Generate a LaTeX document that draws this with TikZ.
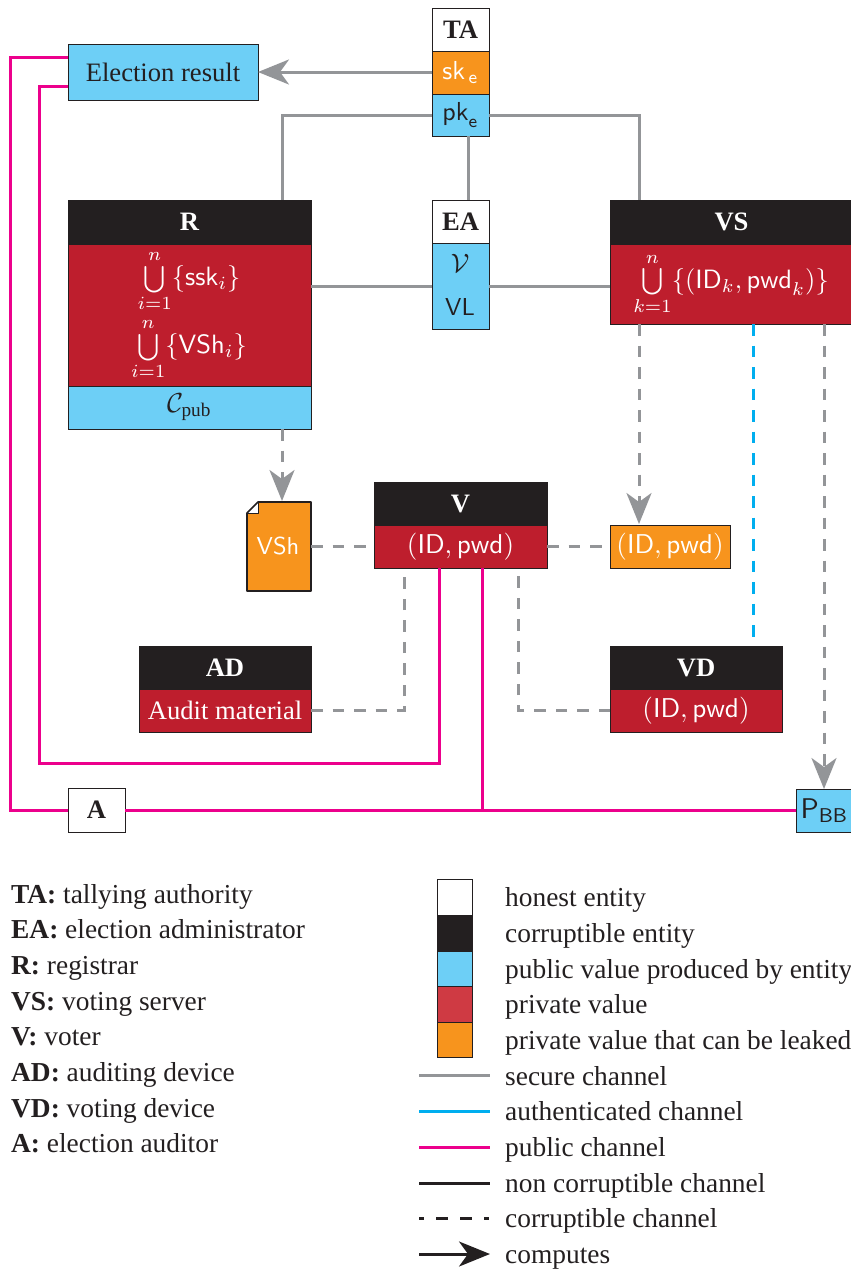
\documentclass[tikz,border=0pt]{standalone}
\usepackage{graphicx}
\usepackage{amsmath}
\usepackage{fontspec}
\setmainfont{Liberation Serif}
\usetikzlibrary{arrows.meta,calc}
\definecolor{cblack}{HTML}{231F20}
\definecolor{cred}{HTML}{BE1E2D}
\definecolor{clight}{HTML}{CF3A43}
\definecolor{cblue}{HTML}{6DCFF6}
\definecolor{corange}{HTML}{F7941D}
\definecolor{cgray}{HTML}{939598}
\definecolor{cpink}{HTML}{EC008C}
\definecolor{ccyan}{HTML}{00AEEF}
\newcommand\tx[1]{\scalebox{2.66}{#1}}
\newcommand\lgx[1]{\scalebox{2.74}{#1}}
\newcommand\mx[1]{\scalebox{2.45}{\sffamily #1}}
\newcommand\idx{\raisebox{-0.5pt}{\scalebox{2.72}{\sffamily $(\mathsf{ID},\mathsf{pwd})$}}}
\newcommand\bx[8]{%
  \pgfmathsetmacro\bxW{#4-#2}\pgfmathsetmacro\bxH{#5-#3}%
  \pgfmathsetmacro\bxX{(#2+#4)/2}\pgfmathsetmacro\bxY{(#3+#5)/2}%
  \node[boxstyle,fill=#6,text=#7,minimum width=\bxW pt,minimum height=\bxH pt] (#1) at (\bxX,\bxY) {#8};}
\tikzset{
  x=1pt,y=-1pt,
  boxstyle/.style={draw=cblack,line width=0.9pt,inner sep=0pt,outer sep=0pt,font=\rmfamily},
  secure/.style={draw=cgray,line width=3pt},
  securedash/.style={secure,dash pattern=on 11.5pt off 10pt},
  authdash/.style={draw=ccyan,line width=3pt,dash pattern=on 11.5pt off 10pt},
  pub/.style={draw=cpink,line width=3pt},
  tip/.style={-{Stealth[length=31pt,width=25pt,inset=9pt]}},
  lab/.style={anchor=base west,inner sep=0pt,text=cblack,font=\rmfamily,yshift=-1pt},
  lgline/.style={line width=3pt},
}
\begin{document}
\begin{tikzpicture}
\useasboundingbox (0,0) rectangle (851,1270);
% boxes
\bx{ta}{432}{8}{489}{51}{white}{cblack}{\tx{\textbf{TA}}}
\bx{ske}{432}{51}{489}{94}{corange}{white}{\scalebox{2.6}{\sffamily $\mathsf{sk}_{\,\mathsf{e}}$}}
\bx{pke}{432}{94}{489}{136}{cblue}{cblack}{\scalebox{2.6}{\sffamily $\mathsf{pk}_{\mathsf{e}}$}}
\bx{elec}{68}{44}{258}{100}{cblue}{cblack}{\tx{Election result}}
\bx{rhead}{68}{200}{311}{244}{cblack}{white}{\tx{\textbf{R}}}
\bx{rpriv}{68}{244}{311}{386}{cred}{white}{}
\bx{rpub}{68}{386}{311}{429}{cblue}{cblack}{\raisebox{-3pt}{\scalebox{2.75}{$\mathcal{C}_{\mathrm{pub}}$}}}
\bx{eahead}{432}{200}{489}{243}{white}{cblack}{\tx{\textbf{EA}}}
\bx{eapub}{432}{243}{489}{329}{cblue}{cblack}{}
\bx{vshead}{610}{200}{853}{244}{cblack}{white}{\tx{\textbf{VS}}}
\bx{vspriv}{610}{244}{853}{324}{cred}{white}{}
\bx{vhead}{374}{482}{547}{525}{cblack}{white}{\tx{\textbf{V}}}
\bx{vpriv}{374}{525}{547}{568}{cred}{white}{\idx}
\bx{leak}{610}{525}{730}{568}{corange}{white}{\idx}
\bx{adhead}{139}{646}{311}{689}{cblack}{white}{\tx{\textbf{AD}}}
\bx{adpriv}{139}{689}{311}{732}{cred}{white}{\tx{Audit material}}
\bx{vdhead}{610}{646}{782}{689}{cblack}{white}{\tx{\textbf{VD}}}
\bx{vdpriv}{610}{689}{782}{732}{cred}{white}{\idx}
\bx{aud}{68}{788}{125}{832}{white}{cblack}{\tx{\textbf{A}}}
\bx{pbb}{796}{789}{853}{832}{cblue}{cblack}{\scalebox{2.85}{\sffamily $\mathsf{P}_{\mathsf{BB}}$}}
% box inner texts
\node[text=white,inner sep=0pt] (rssk) at (189,281) {\scalebox{2.65}{\sffamily $\bigcup\limits_{i=1}^{n}\{\mathsf{ssk}_{i}\}$}};
\node[text=white,inner sep=0pt] (rvsh) at (189,349) {\scalebox{2.65}{\sffamily $\bigcup\limits_{i=1}^{n}\{\mathsf{VSh}_{i}\}$}};
\node[text=white,inner sep=0pt] (vsid) at (731,284) {\scalebox{2.65}{\sffamily $\bigcup\limits_{k=1}^{n}\{(\mathsf{ID}_{k},\mathsf{pwd}_{k})\}$}};
\node[text=cblack,inner sep=0pt] (eav) at (460,263) {\tx{$\mathcal{V}$}};
\node[text=cblack,inner sep=0pt] (eavl) at (460,307) {\mx{VL}};
% VSh document
\node[inner sep=0pt,minimum width=64pt,minimum height=89pt,outer sep=0pt] (vsh) at (279,546.5) {};
\fill[corange] (vsh.north west) ++(11,0) -- (vsh.north east) -- (vsh.south east) -- (vsh.south west) -- ++(0,-78) -- cycle;
\fill[white] (258,502) -- (258,513) -- (247,513) -- cycle;
\draw[cblack,line width=1.6pt,line join=round] (258,502) -- (vsh.north east) -- (vsh.south east) -- (vsh.south west) -- (247,513) -- cycle;
\draw[cblack,line width=1pt,line join=round] (258,502) -- (258,513) -- (247,513);
\node[text=white,inner sep=0pt] (vshlab) at (278,546) {\mx{VSh}};
% anchors for connectors
\coordinate (pkl) at (432,115);
\coordinate (pkr) at (489,115);
\coordinate (rtop) at (282,200);
\coordinate (vstop) at (639,200);
\coordinate (pkb) at (468,136);
\coordinate (eat) at (468,200);
\coordinate (el) at (489,286);
\coordinate (er) at (432,286);
\coordinate (rr) at (311,286);
\coordinate (vsl) at (610,286);
\coordinate (elup) at (68,57);
\coordinate (ellow) at (68,86);
\coordinate (vp1) at (439,568);
\coordinate (vp2) at (482,568);
\coordinate (vp2b) at (482,810);
\coordinate (vd1) at (404,568);
\coordinate (vd2) at (518,568);
\coordinate (vs1) at (639,324);
\coordinate (vs1b) at (639,524);
\coordinate (vs2) at (753,324);
\coordinate (vs2b) at (753,646);
\coordinate (vs3) at (824,324);
\coordinate (vs3b) at (824,789);
\coordinate (rb) at (282,429);
\coordinate (rbb) at (282,501);
\coordinate (pk1) at (10,810);
\coordinate (pk2) at (39,763);
% connectors
\draw[secure,tip] (ske.west |- elec.east) -- (elec.east);
\draw[secure] (pkl) -| (rtop);
\draw[secure] (pkr) -| (vstop);
\draw[secure] (pkb) -- (eat);
\draw[secure] (rr) -- (er);
\draw[secure] (el) -- (vsl);
\draw[securedash,tip] (rb) -- (rbb);
\draw[securedash,tip] (vs1) -- (vs1b);
\draw[authdash] (vs2) -- (vs2b);
\draw[securedash,tip] (vs3) -- (vs3b);
\draw[securedash] (vsh.east) -- (vpriv.west);
\draw[securedash] (vpriv.east) -- (leak.west);
\draw[securedash] (adpriv.east) -| (vd1);
\draw[securedash] (vdpriv.west) -| (vd2);
\draw[pub] (elup) -| (pk1) -- (aud.west);
\draw[pub] (ellow) -| (pk2) -| (vp1);
\draw[pub] (aud.east) -- (aud.east -| pbb.west);
\draw[pub] (vp2) -- (vp2b);
% left legend
\node[lab] (k1) at (11,902) {\lgx{\textbf{TA:} tallying authority}};
\node[lab] (k2) at (11,937) {\lgx{\textbf{EA:} election administrator}};
\node[lab] (k3) at (11,973) {\lgx{\textbf{R:} registrar}};
\node[lab] (k4) at (11,1009) {\lgx{\textbf{VS:} voting server}};
\node[lab] (k5) at (11,1044) {\lgx{\textbf{V:} voter}};
\node[lab] (k6) at (11,1080) {\lgx{\textbf{AD:} auditing device}};
\node[lab] (k7) at (11,1116) {\lgx{\textbf{VD:} voting device}};
\node[lab] (k8) at (11,1151) {\lgx{\textbf{A:} election auditor}};
% right legend swatches
\bx{s1}{437}{879}{472}{915}{white}{cblack}{}
\bx{s2}{437}{915}{472}{951}{cblack}{cblack}{}
\bx{s3}{437}{951}{472}{986}{cblue}{cblack}{}
\bx{s4}{437}{986}{472}{1022}{clight}{cblack}{}
\bx{s5}{437}{1022}{472}{1057}{corange}{cblack}{}
\node[lab] (t1) at (505,905) {\lgx{honest entity}};
\node[lab] (t2) at (505,941) {\lgx{corruptible entity}};
\node[lab] (t3) at (505,977) {\lgx{public value produced by entity}};
\node[lab] (t4) at (505,1012) {\lgx{private value}};
\node[lab] (t5) at (505,1048) {\lgx{private value that can be leaked}};
\node[lab] (t6) at (505,1084) {\lgx{secure channel}};
\node[lab] (t7) at (505,1119) {\lgx{authenticated channel}};
\node[lab] (t8) at (505,1155) {\lgx{public channel}};
\node[lab] (t9) at (505,1191) {\lgx{non corruptible channel}};
\node[lab] (t10) at (505,1226) {\lgx{corruptible channel}};
\node[lab] (t11) at (505,1262) {\lgx{computes}};
\coordinate (a6) at (419,1075); \coordinate (b6) at (490,1075);
\coordinate (a7) at (419,1111); \coordinate (b7) at (490,1111);
\coordinate (a8) at (419,1147); \coordinate (b8) at (490,1147);
\coordinate (a9) at (419,1183); \coordinate (b9) at (490,1183);
\coordinate (a10) at (419,1218); \coordinate (b10) at (490,1218);
\coordinate (a11) at (419,1254); \coordinate (b11) at (490,1254);
\draw[lgline,cgray] (a6) -- (b6);
\draw[lgline,ccyan] (a7) -- (b7);
\draw[lgline,cpink] (a8) -- (b8);
\draw[lgline,cblack] (a9) -- (b9);
\draw[lgline,cblack,dash pattern=on 5pt off 12pt on 12pt off 12pt on 12pt off 12pt on 5pt] (a10) -- (b10);
\draw[lgline,cblack,tip] (a11) -- (b11);
\end{tikzpicture}
\end{document}
